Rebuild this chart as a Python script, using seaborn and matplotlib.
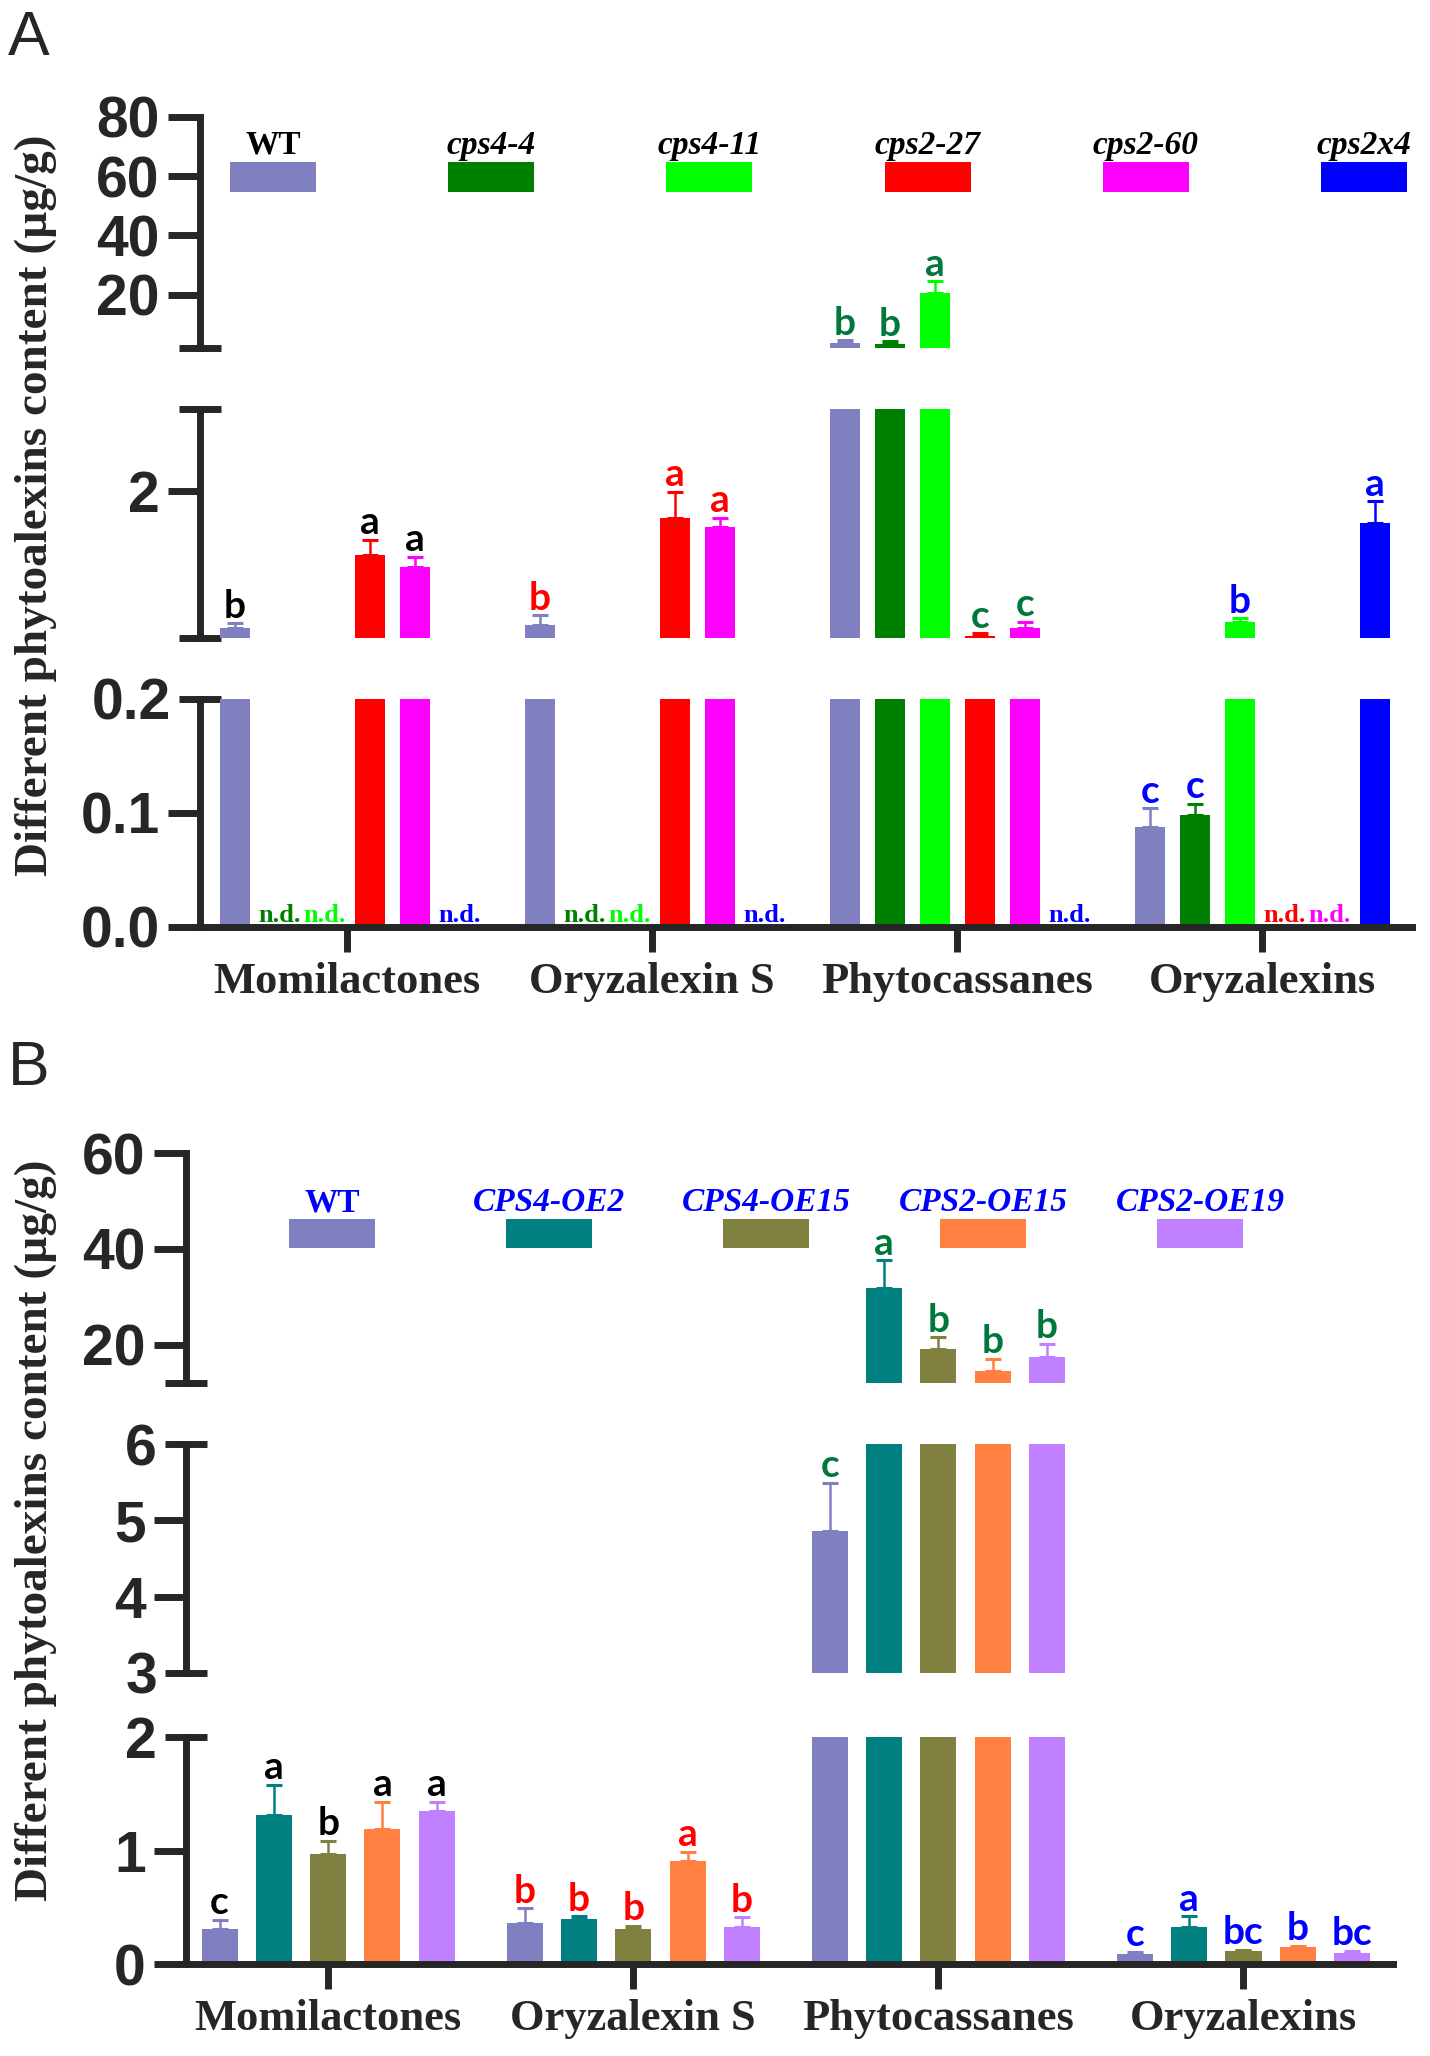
import matplotlib
matplotlib.use("Agg")
import matplotlib.pyplot as plt
from matplotlib.patches import Rectangle
import numpy as np
import pandas as pd
import seaborn as sns

# ---------------- data ----------------
groups = ["Momilactones", "Oryzalexin S", "Phytocassanes", "Oryzalexins"]
letter_colors = ["#000000", "#FF0000", "#00783C", "#0000FF"]
ylabel = "Different phytoalexins content (\u00b5g/g)"

# Panel A
lines_a = ["WT", "cps4-4", "cps4-11", "cps2-27", "cps2-60", "cps2x4"]
colors_a = ["#8080C0", "#008000", "#00FF00", "#FF0000", "#FF00FF", "#0000FF"]
a_wt = [0.32, 0.36, 3.7, 0.088]
a_cps4_4 = [0.0, 0.0, 3.2, 0.098]
a_cps4_11 = [0.0, 0.0, 20.6, 0.39]
a_cps2_27 = [1.22, 1.67, 0.22, 0.0]
a_cps2_60 = [1.07, 1.56, 0.32, 0.0]
a_cps2x4 = [0.0, 0.0, 0.0, 1.61]
a_err_wt = [0.06, 0.12, 0.9, 0.016]
a_err_cps4_4 = [0.0, 0.0, 1.1, 0.010]
a_err_cps4_11 = [0.0, 0.0, 3.9, 0.05]
a_err_cps2_27 = [0.18, 0.32, 0.04, 0.0]
a_err_cps2_60 = [0.12, 0.11, 0.08, 0.0]
a_err_cps2x4 = [0.0, 0.0, 0.0, 0.26]
a_let_wt = ["b", "b", "b", "c"]
a_let_cps4_4 = ["n.d.", "n.d.", "b", "c"]
a_let_cps4_11 = ["n.d.", "n.d.", "a", "b"]
a_let_cps2_27 = ["a", "a", "c", "n.d."]
a_let_cps2_60 = ["a", "a", "c", "n.d."]
a_let_cps2x4 = ["n.d.", "n.d.", "n.d.", "a"]
a_seg_lims = [(2, 80), (0.2, 3.0), (0, 0.2)]
a_major = [[20, 40, 60, 80], [2], [0, 0.1]]
a_major_labels = [["20", "40", "60", "80"], ["2"], ["0.0", "0.1"]]
a_minor = [[2], [0.2, 3.0], [0.2]]
a_minor_labels = [[""], ["", ""], ["0.2"]]

# Panel B
lines_b = ["WT", "CPS4-OE2", "CPS4-OE15", "CPS2-OE15", "CPS2-OE19"]
colors_b = ["#8080C0", "#008080", "#808040", "#FF8040", "#C080FF"]
b_wt = [0.31, 0.365, 4.86, 0.09]
b_oe2 = [1.31, 0.40, 31.9, 0.33]
b_oe4_15 = [0.965, 0.31, 19.0, 0.116]
b_oe2_15 = [1.19, 0.91, 14.5, 0.15]
b_oe2_19 = [1.35, 0.33, 17.5, 0.10]
b_err_wt = [0.08, 0.125, 0.63, 0.02]
b_err_oe2 = [0.27, 0.02, 5.7, 0.09]
b_err_oe4_15 = [0.12, 0.025, 2.5, 0.011]
b_err_oe2_15 = [0.24, 0.08, 2.6, 0.012]
b_err_oe2_19 = [0.08, 0.08, 2.7, 0.016]
b_let_wt = ["c", "b", "c", "c"]
b_let_oe2 = ["a", "b", "a", "a"]
b_let_oe4_15 = ["b", "b", "b", "bc"]
b_let_oe2_15 = ["a", "a", "b", "b"]
b_let_oe2_19 = ["a", "b", "b", "bc"]
b_seg_lims = [(12, 60), (3, 6), (0, 2)]
b_major = [[20, 40, 60], [4, 5], [0, 1]]
b_major_labels = [["20", "40", "60"], ["4", "5"], ["0", "1"]]
b_minor = [[12], [3, 6], [2]]
b_minor_labels = [[""], ["3", "6"], ["2"]]

# ---------------- style ----------------
sns.set_style("ticks")
plt.rcParams["font.family"] = ["Liberation Sans", "DejaVu Sans"]
plt.rcParams["font.weight"] = "bold"
SERIF = ["Liberation Serif", "DejaVu Serif"]
LETTER_FONT = ["Lato", "DejaVu Sans"]

W, H = 1430, 2056
fig = plt.figure(figsize=(W / 100, H / 100), dpi=100)


def add_ax(l, r, t, b):
    return fig.add_axes([l / W, 1 - b / H, (r - l) / W, (b - t) / H])


def draw_panel(lines, colors, vals, errs, letters, left, right, seg_px,
               seg_lims, major, major_labels, minor, minor_labels,
               width, gap, xlim):
    rows = []
    for line, v in zip(lines, vals):
        for g, x in zip(groups, v):
            rows.append({"group": g, "line": line, "value": x})
    df = pd.DataFrame(rows)
    n = len(lines)
    slot = width / n
    for k in range(3):
        t, b = seg_px[k]
        ax = add_ax(left, right, t, b)
        sns.barplot(data=df, x="group", y="value", hue="line", order=groups,
                    hue_order=lines, palette=colors, width=width, gap=gap,
                    errorbar=None, saturation=1, linewidth=0, legend=False,
                    ax=ax)
        lo, hi = seg_lims[k]
        ax.set_ylim(lo, hi)
        ax.set_xlim(*xlim)
        ax.set_xlabel("")
        ax.set_ylabel("")
        ax.set_yticks(major[k], labels=major_labels[k])
        ax.set_yticks(minor[k], labels=minor_labels[k], minor=True)
        ax.tick_params(axis="y", which="major", direction="out", length=23,
                       width=5, pad=6, labelsize=41)
        ax.tick_params(axis="y", which="minor", direction="inout", length=30,
                       width=5, pad=6, labelsize=41)
        for s in ["top", "right"]:
            ax.spines[s].set_visible(False)
        ax.spines["left"].set_linewidth(5)
        if k < 2:
            ax.spines["bottom"].set_visible(False)
            ax.set_xticks([])
        else:
            ax.spines["bottom"].set_linewidth(5)
            ax.set_xticks(range(len(groups)), labels=groups,
                          fontfamily=SERIF, fontweight="bold", fontsize=32)
            ax.tick_params(axis="x", direction="out", length=18, width=5,
                           pad=7)
        ax.set_facecolor("none")

        for p in list(ax.patches):
            xc = p.get_x() + p.get_width() / 2
            gi = int(round(xc))
            li = int(round((xc - gi + width / 2 - slot / 2) / slot))
            if li < 0 or li >= n or gi < 0 or gi >= len(groups):
                continue
            v = vals[li][gi]
            e = errs[li][gi]
            lab = letters[li][gi]
            col = colors[li]
            if e > 0 and (v + e) > lo and v < hi:
                ax.errorbar([xc], [v], yerr=[[0], [e]], fmt="none",
                            ecolor=col, elinewidth=1.8, capsize=5.5,
                            capthick=2.2, zorder=3)
            if lab == "n.d.":
                if k == 2:
                    ax.annotate("n.d.", (xc, 0), xytext=(0, 3.5),
                                textcoords="offset points", ha="center",
                                va="baseline", color=col, fontsize=19,
                                fontfamily=SERIF, fontweight="bold")
            elif lab:
                top = v + e
                if lo <= top < hi:
                    ax.annotate(lab, (xc, top), xytext=(0, 4),
                                textcoords="offset points", ha="center",
                                va="baseline", color=letter_colors[gi],
                                fontsize=28, fontfamily=LETTER_FONT,
                                fontweight="bold")


def draw_legend(lines, colors, centers, patch_top, patch_h, base, tcolor):
    for i, (line, c, cx) in enumerate(zip(lines, colors, centers)):
        rect = Rectangle(((cx - 43) / W, 1 - (patch_top + patch_h) / H),
                         86 / W, patch_h / H, transform=fig.transFigure,
                         facecolor=c, edgecolor="none")
        fig.add_artist(rect)
        fig.text(cx / W, 1 - base / H, line, ha="center", va="baseline",
                 fontsize=24, fontfamily=SERIF, fontweight="bold",
                 fontstyle="normal" if line == "WT" else "italic",
                 color=tcolor)


# ---------------- Panel A ----------------
draw_panel(lines_a, colors_a,
           [a_wt, a_cps4_4, a_cps4_11, a_cps2_27, a_cps2_60, a_cps2x4],
           [a_err_wt, a_err_cps4_4, a_err_cps4_11, a_err_cps2_27,
            a_err_cps2_60, a_err_cps2x4],
           [a_let_wt, a_let_cps4_4, a_let_cps4_11, a_let_cps2_27,
            a_let_cps2_60, a_let_cps2x4],
           200, 1412, [(117, 348), (409, 638), (699, 927)],
           a_seg_lims, a_major, a_major_labels, a_minor, a_minor_labels,
           width=0.885, gap=0.333, xlim=(-0.482, 3.49))
draw_legend(lines_a, colors_a, np.linspace(273, 1364, 6), 162, 30, 154,
            "black")
fig.text(36 / W, 1 - 505 / H, ylabel, rotation=90, ha="center", va="center",
         fontsize=34, fontfamily=SERIF, fontweight="bold")
fig.text(8 / W, 1 - 55 / H, "A", ha="left", va="baseline", fontsize=45,
         fontweight="normal", fontfamily=["Liberation Sans", "DejaVu Sans"])

# ---------------- Panel B ----------------
draw_panel(lines_b, colors_b,
           [b_wt, b_oe2, b_oe4_15, b_oe2_15, b_oe2_19],
           [b_err_wt, b_err_oe2, b_err_oe4_15, b_err_oe2_15, b_err_oe2_19],
           [b_let_wt, b_let_oe2, b_let_oe4_15, b_let_oe2_15, b_let_oe2_19],
           186, 1393, [(1153, 1383), (1444, 1673), (1737, 1964)],
           b_seg_lims, b_major, b_major_labels, b_minor, b_minor_labels,
           width=0.89, gap=0.337, xlim=(-0.466, 3.49))
draw_legend(lines_b, colors_b, np.linspace(332, 1200, 5), 1219, 29, 1211,
            "#0000FF")
fig.text(36 / W, 1 - 1530 / H, ylabel, rotation=90, ha="center",
         va="center", fontsize=34, fontfamily=SERIF, fontweight="bold")
fig.text(8 / W, 1 - 1085 / H, "B", ha="left", va="baseline", fontsize=45,
         fontweight="normal", fontfamily=["Liberation Sans", "DejaVu Sans"])

fig.savefig("out.png", dpi=100, facecolor="white")
